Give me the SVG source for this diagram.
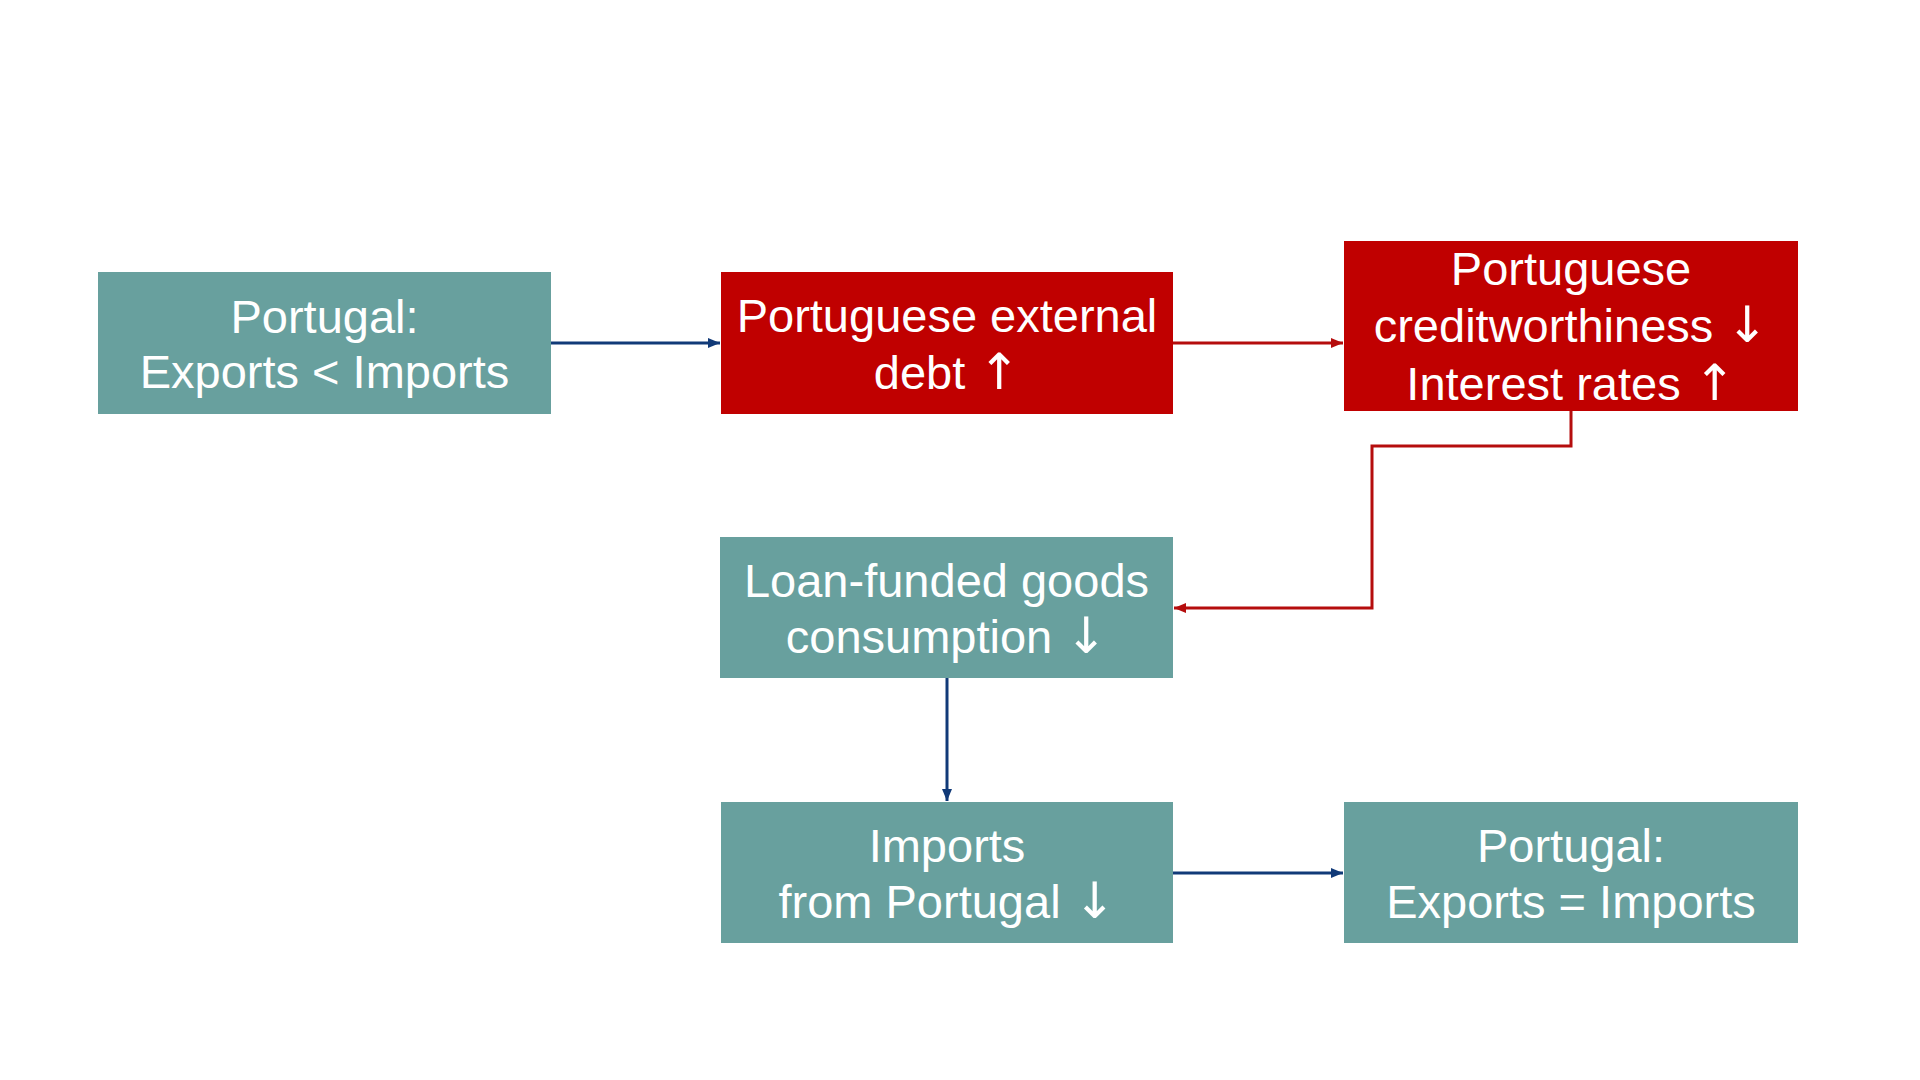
<svg xmlns="http://www.w3.org/2000/svg" width="1920" height="1080" viewBox="0 0 1920 1080">
<defs>
<style>
.teal{fill:#68A09E}
.red{fill:#C00000}
.t{font-family:"Liberation Sans",Arial,"DejaVu Sans",sans-serif;font-size:47px;fill:#FFFFFF;text-anchor:middle}
.a{font-family:"DejaVu Sans",sans-serif;font-size:50px}
.cb{fill:none;stroke:#113A78;stroke-width:3}
.cr{fill:none;stroke:#B50D0D;stroke-width:3}
</style>
<marker id="ab" markerUnits="userSpaceOnUse" markerWidth="12" markerHeight="10" refX="12" refY="5" orient="auto">
<path d="M0,0 L12,5 L0,10 Z" fill="#113A78"/>
</marker>
<marker id="ar" markerUnits="userSpaceOnUse" markerWidth="12" markerHeight="10" refX="12" refY="5" orient="auto">
<path d="M0,0 L12,5 L0,10 Z" fill="#B50D0D"/>
</marker>
</defs>
<rect width="1920" height="1080" fill="#FFFFFF"/>
<g id="connectors">
<line class="cb" x1="551" y1="343" x2="720" y2="343" marker-end="url(#ab)"/>
<line class="cr" x1="1173" y1="343" x2="1343" y2="343" marker-end="url(#ar)"/>
<polyline class="cr" points="1571,411 1571,446 1372,446 1372,608 1174,608" marker-end="url(#ar)"/>
<line class="cb" x1="947" y1="678" x2="947" y2="801" marker-end="url(#ab)"/>
<line class="cb" x1="1173" y1="873" x2="1343" y2="873" marker-end="url(#ab)"/>
</g>
<g id="node1">
<rect class="teal" x="98" y="272" width="453" height="142"/>
<text class="t" x="324.5" y="333">Portugal:</text>
<text class="t" x="324.5" y="388">Exports &lt; Imports</text>
</g>
<g id="node2">
<rect class="red" x="721" y="272" width="452" height="142"/>
<text class="t" x="947" y="332">Portuguese external</text>
<text class="t" x="947" y="389">debt <tspan class="a">↑</tspan></text>
</g>
<g id="node3">
<rect class="red" x="1344" y="241" width="454" height="170"/>
<text class="t" x="1571" y="285">Portuguese</text>
<text class="t" x="1571" y="342">creditworthiness <tspan class="a">↓</tspan></text>
<text class="t" x="1571" y="400">Interest rates <tspan class="a">↑</tspan></text>
</g>
<g id="node4">
<rect class="teal" x="720" y="537" width="453" height="141"/>
<text class="t" x="946.5" y="597">Loan-funded goods</text>
<text class="t" x="946.5" y="653">consumption <tspan class="a">↓</tspan></text>
</g>
<g id="node5">
<rect class="teal" x="721" y="802" width="452" height="141"/>
<text class="t" x="947" y="862">Imports</text>
<text class="t" x="947" y="918">from Portugal <tspan class="a">↓</tspan></text>
</g>
<g id="node6">
<rect class="teal" x="1344" y="802" width="454" height="141"/>
<text class="t" x="1571" y="862">Portugal:</text>
<text class="t" x="1571" y="918">Exports = Imports</text>
</g>
</svg>
